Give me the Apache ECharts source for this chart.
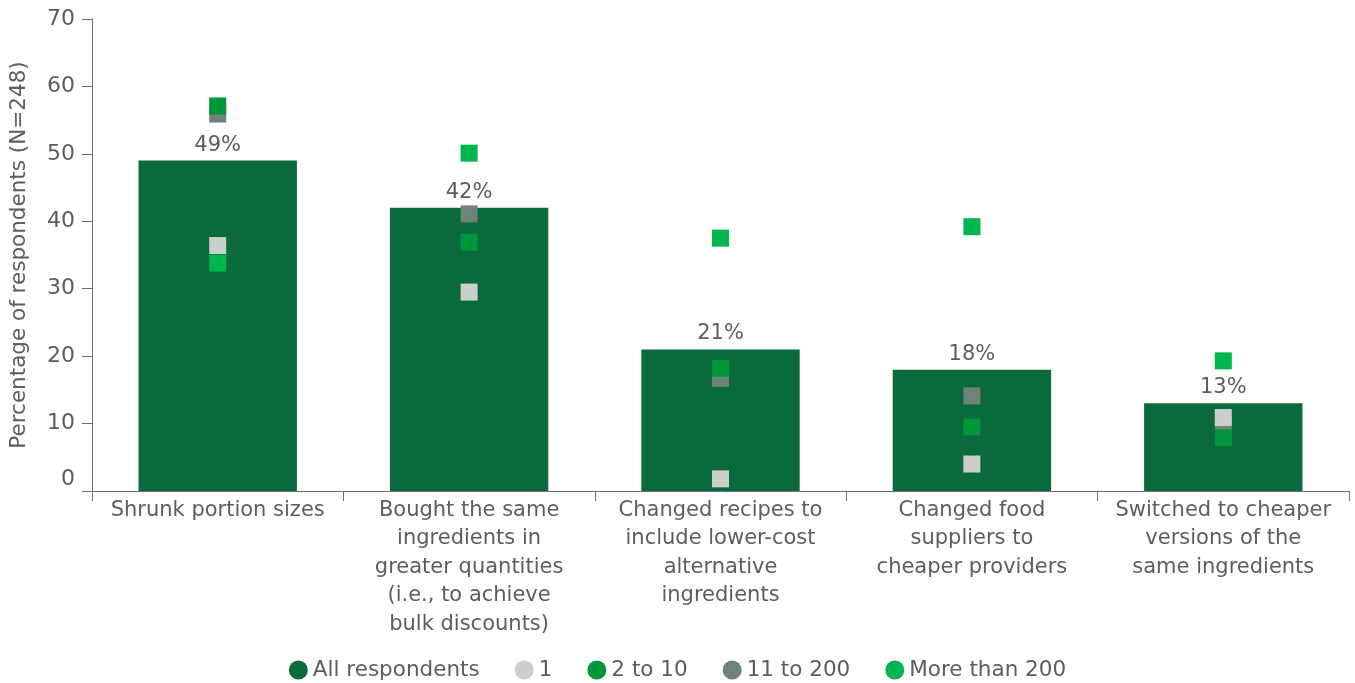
<!DOCTYPE html>
<html><head><meta charset="utf-8">
<script src="https://cdn.jsdelivr.net/npm/echarts@6/dist/echarts.min.js"></script>
<style>html,body{margin:0;padding:0;background:#fff}#c{width:1355px;height:683px}</style>
</head><body><div id="c"></div>
<script>
const categories = [
  'Shrunk portion sizes',
  'Bought the same\ningredients in\ngreater quantities\n(i.e., to achieve\nbulk discounts)',
  'Changed recipes to\ninclude lower-cost\nalternative\ningredients',
  'Changed food\nsuppliers to\ncheaper providers',
  'Switched to cheaper\nversions of the\nsame ingredients'
];
const allRespondents = [49, 42, 21, 18, 13];
const size1 = [36.4, 29.5, 1.8, 4.0, 10.9];
const size2to10 = [57.1, 36.9, 18.2, 9.5, 7.9];
const size11to200 = [55.9, 41.1, 16.7, 14.1, 9.6];
const sizeOver200 = [33.8, 50.1, 37.5, 39.2, 19.3];
const yTicks = [0, 10, 20, 30, 40, 50, 60, 70];

const FONT = 'DejaVu Sans';
const TXT = '#5a5e62';
const chart = echarts.init(document.getElementById('c'));
const sq = (name, data, color, z) => ({
  name, type: 'scatter', data, symbol: 'rect', symbolSize: 17, z,
  itemStyle: {color, opacity: 1}, emphasis: {disabled: true}
});
chart.setOption({
  animation: false,
  textStyle: {fontFamily: FONT},
  grid: {left: 89, right: 6, top: 19, bottom: 192, containLabel: false},
  legend: {
    top: 654, left: 'center', icon: 'circle', itemWidth: 19, itemHeight: 19, itemGap: 35,
    textStyle: {fontFamily: FONT, fontSize: 21.5, color: TXT, padding: [0, 0, 0, 0]},
    data: ['All respondents', '1', '2 to 10', '11 to 200', 'More than 200']
  },
  xAxis: {
    type: 'category', data: categories,
    axisLine: {lineStyle: {color: '#6b6f72', width: 1}},
    axisTick: {show: true, length: 10, lineStyle: {color: '#6b6f72'}},
    axisLabel: {interval: 0, fontFamily: FONT, fontSize: 21, color: TXT, lineHeight: 28.5, margin: 5}
  },
  yAxis: {
    type: 'value', min: yTicks[0], max: yTicks[yTicks.length - 1], interval: 10,
    name: 'Percentage of respondents (N=248)', nameLocation: 'middle', nameGap: 62, nameRotate: 90,
    nameTextStyle: {fontFamily: FONT, fontSize: 21.5, color: TXT},
    splitLine: {show: false},
    axisLine: {show: true, lineStyle: {color: '#6b6f72'}},
    axisTick: {show: true, length: 10, lineStyle: {color: '#6b6f72'}},
    axisLabel: {
      fontFamily: FONT, fontSize: 22, color: TXT, margin: 17,
      formatter: v => v === 0 ? '{z|0}' : String(v),
      rich: {z: {fontFamily: FONT, fontSize: 22, color: TXT, padding: [0, 0, 24, 0]}}
    }
  },
  series: [
    {
      name: 'All respondents', type: 'bar', data: allRespondents, barWidth: '63%', z: 1,
      itemStyle: {color: '#0a6a3b'},
      label: {show: true, position: 'top', distance: 5, formatter: '{c}%', fontFamily: FONT, fontSize: 21, color: TXT}
    },
    sq('1', size1, '#c8cfcc', 4),
    sq('2 to 10', size2to10, '#009639', 4),
    sq('11 to 200', size11to200, '#6d8377', 3),
    sq('More than 200', sizeOver200, '#00b64f', 4)
  ]
});
</script></body></html>
